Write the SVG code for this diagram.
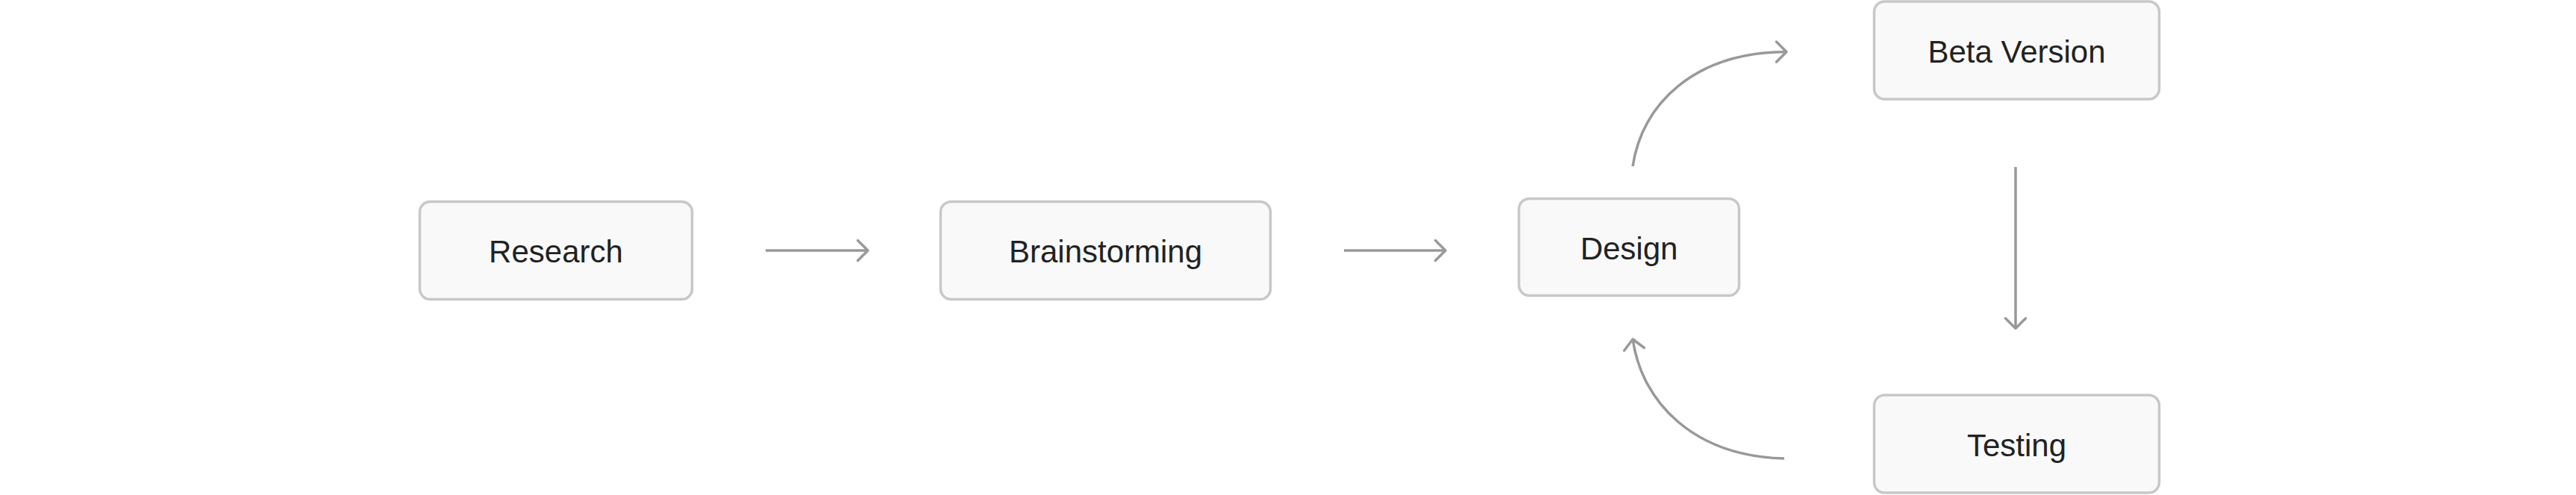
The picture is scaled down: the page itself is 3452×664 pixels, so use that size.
<svg xmlns="http://www.w3.org/2000/svg" width="3452" height="664" viewBox="0 0 3452 664">
  <style>
    .box { fill: #f9f9f9; stroke: #c8c8c8; stroke-width: 3.5; }
    .label { font-family: "Liberation Sans", Arial, Helvetica, sans-serif; font-size: 42px; fill: #222222; text-anchor: middle; }
    .edge { fill: none; stroke: #999999; stroke-width: 3.5; marker-end: url(#arrow); }
  </style>
  <defs>
    <marker id="arrow" markerUnits="userSpaceOnUse" markerWidth="40" markerHeight="40" refX="0" refY="0" viewBox="-20 -20 40 40" orient="auto" overflow="visible">
      <path d="M-13.5,-13.5 L0,0 L-13.5,13.5" fill="none" stroke="#999999" stroke-width="3.5" stroke-linecap="round" stroke-linejoin="round"/>
    </marker>
  </defs>
  <rect x="0" y="0" width="3452" height="664" fill="#ffffff"/>

  <g id="research">
    <rect class="box" x="562.5" y="270.5" width="365" height="131" rx="14"/>
    <text class="label" x="745" y="351.5">Research</text>
  </g>
  <g id="brainstorming">
    <rect class="box" x="1260.5" y="270.5" width="442" height="131" rx="14"/>
    <text class="label" x="1481.5" y="351.5">Brainstorming</text>
  </g>
  <g id="design">
    <rect class="box" x="2035.5" y="266.5" width="295" height="130" rx="14"/>
    <text class="label" x="2183" y="348">Design</text>
  </g>
  <g id="beta-version">
    <rect class="box" x="2511.5" y="2" width="382" height="131" rx="14"/>
    <text class="label" x="2702.5" y="83.5">Beta Version</text>
  </g>
  <g id="testing">
    <rect class="box" x="2511.5" y="530" width="382" height="131" rx="14"/>
    <text class="label" x="2702.5" y="611.5">Testing</text>
  </g>

  <g id="connectors">
    <path class="edge" d="M1026,336 L1163,336"/>
    <path class="edge" d="M1801,336 L1937,336"/>
    <path class="edge" d="M2188,223 C2200,140 2270,70 2394,69.5"/>
    <path class="edge" d="M2701,224 L2701,440.5"/>
    <path class="edge" d="M2391,615 C2270,612 2200,540 2188,455"/>
  </g>
</svg>
